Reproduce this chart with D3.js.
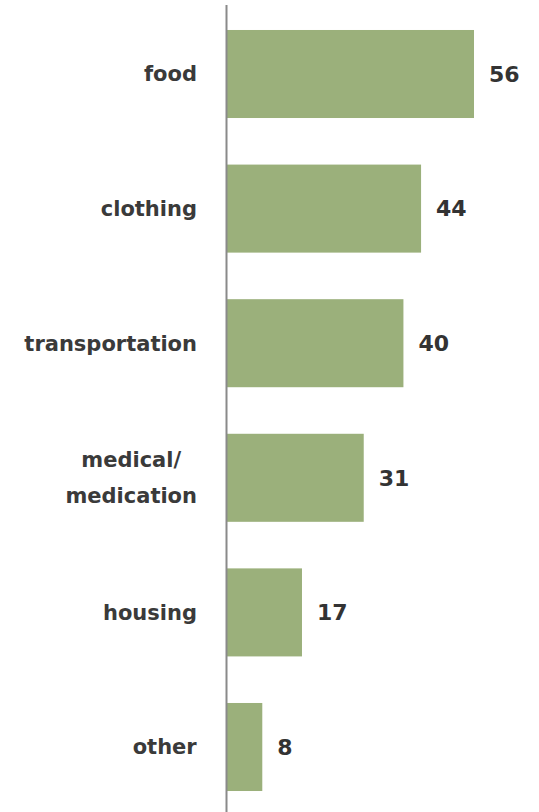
<!DOCTYPE html>
<html><head><meta charset="utf-8">
<script src="https://cdn.jsdelivr.net/npm/d3@7/dist/d3.min.js"></script>
<style>body{margin:0;background:#fff}</style>
</head><body>
<script>
const categories = ["food","clothing","transportation","medical/\nmedication","housing","other"];
const values = [56,44,40,31,17,8];

const W = 539, H = 812;
const svg = d3.select("body").append("svg").attr("width",W).attr("height",H);
const x0 = 227;
const x = d3.scaleLinear().domain([0,56]).range([x0, 474]);
const y = d3.scaleBand().domain(categories).range([6.7, 814.3]).paddingInner(0.346).paddingOuter(0.173);

svg.selectAll("rect.bar").data(values).join("rect").attr("class","bar")
  .attr("x", x(0)).attr("y",(d,i)=>y(categories[i]))
  .attr("width",d=>x(d)-x(0)).attr("height",y.bandwidth())
  .attr("fill","#9bb07b");

svg.append("line").attr("x1",x0-0.5).attr("x2",x0-0.5).attr("y1",5).attr("y2",H)
  .attr("stroke","#8a8a8a").attr("stroke-width",2);

const font = "'DejaVu Sans', sans-serif";
categories.forEach((c,i)=>{
  const lines = c.split("\n");
  const cy = y(c)+y.bandwidth()/2;
  const g = svg.append("text").attr("font-family",font).attr("font-weight","bold")
    .attr("font-size",21).attr("fill","#3a3a3a").attr("text-anchor","middle");
  lines.forEach((l,j)=>{
    g.append("tspan").attr("x",0).attr("y",cy + (j-(lines.length-1)/2)*36).attr("dy","0.35em").text(l);
  });
  const bw = g.node().getBBox().width;
  g.attr("transform",`translate(${197 - bw/2},0)`);
});

svg.selectAll("text.val").data(values).join("text").attr("class","val")
  .attr("x",d=>x(d)+15).attr("y",(d,i)=>y(categories[i])+y.bandwidth()/2).attr("dy","0.35em")
  .attr("font-family",font).attr("font-weight","bold").attr("font-size",22)
  .attr("fill","#333").text(d=>d);
</script>
</body></html>
